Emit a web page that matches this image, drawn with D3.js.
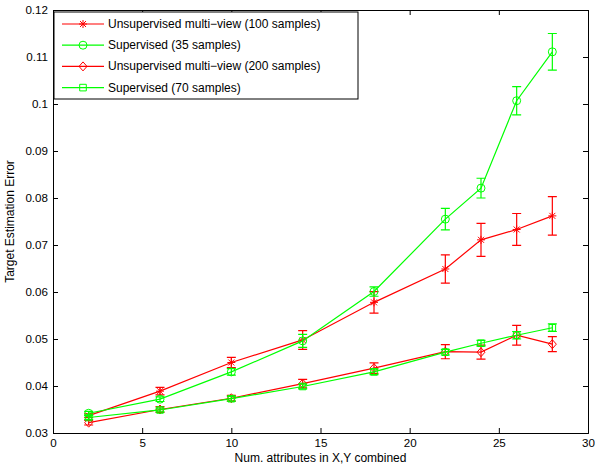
<!DOCTYPE html>
<html>
<head>
<meta charset="utf-8">
<script src="https://cdn.jsdelivr.net/npm/d3@7"></script>
<style>
  body { margin: 0; background: #fff; }
  text { font-family: "Liberation Sans", Arial, sans-serif; font-size: 12px; fill: #000; }
</style>
</head>
<body>
<div id="chart"></div>
<script>
var xValues = [2, 6, 10, 14, 18, 22, 24, 26, 28];

var unsup100 = [0.0337, 0.0389, 0.0450, 0.0498, 0.0578, 0.0649, 0.0711, 0.0733, 0.0762];
var unsup100Err = [0.0004, 0.0008, 0.0011, 0.0020, 0.0023, 0.0030, 0.0035, 0.0034, 0.0041];

var sup35 = [0.0342, 0.0372, 0.0430, 0.0496, 0.0601, 0.0755, 0.0821, 0.1007, 0.1111];
var sup35Err = [0.0004, 0.0005, 0.0007, 0.0014, 0.0010, 0.0023, 0.0021, 0.0030, 0.0039];

var unsup200 = [0.0322, 0.0350, 0.0374, 0.0405, 0.0438, 0.0473, 0.0472, 0.0508, 0.0489];
var unsup200Err = [0.0005, 0.0006, 0.0006, 0.0009, 0.0011, 0.0015, 0.0015, 0.0021, 0.0016];

var sup70 = [0.0333, 0.0349, 0.0373, 0.0399, 0.0430, 0.0472, 0.0491, 0.0508, 0.0524];
var sup70Err = [0.0004, 0.0004, 0.0005, 0.0005, 0.0006, 0.0006, 0.0006, 0.0008, 0.0008];

var seriesNames = [
    'Unsupervised multi\u2212view (100 samples)',
    'Supervised (35 samples)',
    'Unsupervised multi\u2212view (200 samples)',
    'Supervised (70 samples)'
];

var xTicks = [0, 5, 10, 15, 20, 25, 30];
var yTicks = [0.03, 0.04, 0.05, 0.06, 0.07, 0.08, 0.09, 0.1, 0.11, 0.12];

var margin = { top: 10, left: 53, bottom: 33, right: 7 },
    width = 595 - margin.left - margin.right,
    height = 466 - margin.top - margin.bottom;

var series = [
    { name: seriesNames[0], values: unsup100, err: unsup100Err, color: '#ff0000', marker: 'star' },
    { name: seriesNames[1], values: sup35, err: sup35Err, color: '#00ff00', marker: 'circle' },
    { name: seriesNames[2], values: unsup200, err: unsup200Err, color: '#ff0000', marker: 'diamond' },
    { name: seriesNames[3], values: sup70, err: sup70Err, color: '#00ff00', marker: 'square' }
];

var svg = d3.select('#chart').append('svg')
    .attr('width', 595)
    .attr('height', 466)
    .append('g')
    .attr('transform', 'translate(' + margin.left + ',' + margin.top + ')');

var x = d3.scaleLinear().domain([0, 30]).range([0, width]);
var y = d3.scaleLinear().domain([0.03, 0.12]).range([height, 0]);

// marker shapes, MATLAB style
function markerPath(type) {
    if (type === 'star') return 'M-4,0H4M0,-4V4M-3,-3L3,3M-3,3L3,-3';
    if (type === 'circle') return 'M4,0A4,4 0 1,1 -4,0A4,4 0 1,1 4,0Z';
    if (type === 'diamond') return 'M0,-4.5L4,0L0,4.5L-4,0Z';
    return 'M-3.3,-3.3H3.3V3.3H-3.3Z';
}

var line = d3.line()
    .x(d => x(d.x))
    .y(d => y(d.y));

series.forEach(s => {
    var pts = xValues.map((v, i) => ({ x: v, y: s.values[i], e: s.err[i] }));
    var g = svg.append('g');

    // error bars
    g.selectAll('.err')
        .data(pts)
        .enter()
        .append('path')
        .attr('class', 'err')
        .attr('fill', 'none')
        .attr('stroke', s.color)
        .attr('stroke-width', 1.2)
        .attr('d', d => {
            var cx = x(d.x), y0 = y(d.y - d.e), y1 = y(d.y + d.e);
            return 'M' + cx + ',' + y0 + 'V' + y1 +
                'M' + (cx - 4.5) + ',' + y0 + 'H' + (cx + 4.5) +
                'M' + (cx - 4.5) + ',' + y1 + 'H' + (cx + 4.5);
        });

    g.append('path')
        .datum(pts)
        .attr('fill', 'none')
        .attr('stroke', s.color)
        .attr('stroke-width', 1.2)
        .attr('d', line);

    g.selectAll('.marker')
        .data(pts)
        .enter()
        .append('path')
        .attr('class', 'marker')
        .attr('fill', 'none')
        .attr('stroke', s.color)
        .attr('stroke-width', 1)
        .attr('transform', d => 'translate(' + x(d.x) + ',' + y(d.y) + ')')
        .attr('d', markerPath(s.marker));
});

// axes box with inward ticks
var xAxis = d3.axisBottom(x).tickValues(xTicks).tickSize(-5).tickPadding(6).tickFormat(d3.format('d'));
var yAxis = d3.axisLeft(y).tickValues(yTicks).tickSize(-5).tickPadding(5).tickFormat(d => d3.format('')(+d.toFixed(2)));
var xTop = d3.axisTop(x).tickValues(xTicks).tickSize(-5).tickFormat('');
var yRight = d3.axisRight(y).tickValues(yTicks).tickSize(-5).tickFormat('');

svg.append('g').attr('class', 'axis').attr('transform', 'translate(0,' + height + ')').call(xAxis);
svg.append('g').attr('class', 'axis').call(yAxis);
svg.append('g').attr('class', 'axis').call(xTop);
svg.append('g').attr('class', 'axis').attr('transform', 'translate(' + width + ',0)').call(yRight);

svg.selectAll('.axis .domain').attr('stroke', '#000').attr('stroke-width', 1);
svg.selectAll('.axis line').attr('stroke', '#000');
svg.selectAll('.axis text').style('font-family', '"Liberation Sans", Arial, sans-serif').style('font-size', '11.6px').attr('fill', '#000');

// axis labels
svg.append('text')
    .attr('x', width / 2)
    .attr('y', height + 29)
    .attr('text-anchor', 'middle')
    .text('Num. attributes in X,Y combined');

svg.append('text')
    .attr('transform', 'rotate(-90)')
    .attr('x', -height / 2)
    .attr('y', -margin.left + 14)
    .attr('text-anchor', 'middle')
    .text('Target Estimation Error');

// legend
var legend = svg.append('g').attr('transform', 'translate(1,2)');
legend.append('rect')
    .attr('width', 304)
    .attr('height', 87)
    .attr('fill', '#fff')
    .attr('stroke', '#000')
    .attr('stroke-width', 1);

series.forEach((s, i) => {
    var row = legend.append('g').attr('transform', 'translate(0,' + (12 + i * 21.2) + ')');
    row.append('line')
        .attr('x1', 8).attr('x2', 50)
        .attr('stroke', s.color)
        .attr('stroke-width', 1.2);
    row.append('path')
        .attr('transform', 'translate(29,0)')
        .attr('fill', 'none')
        .attr('stroke', s.color)
        .attr('d', markerPath(s.marker));
    row.append('text')
        .attr('x', 54)
        .attr('y', 4)
        .text(s.name);
});
</script>
</body>
</html>
